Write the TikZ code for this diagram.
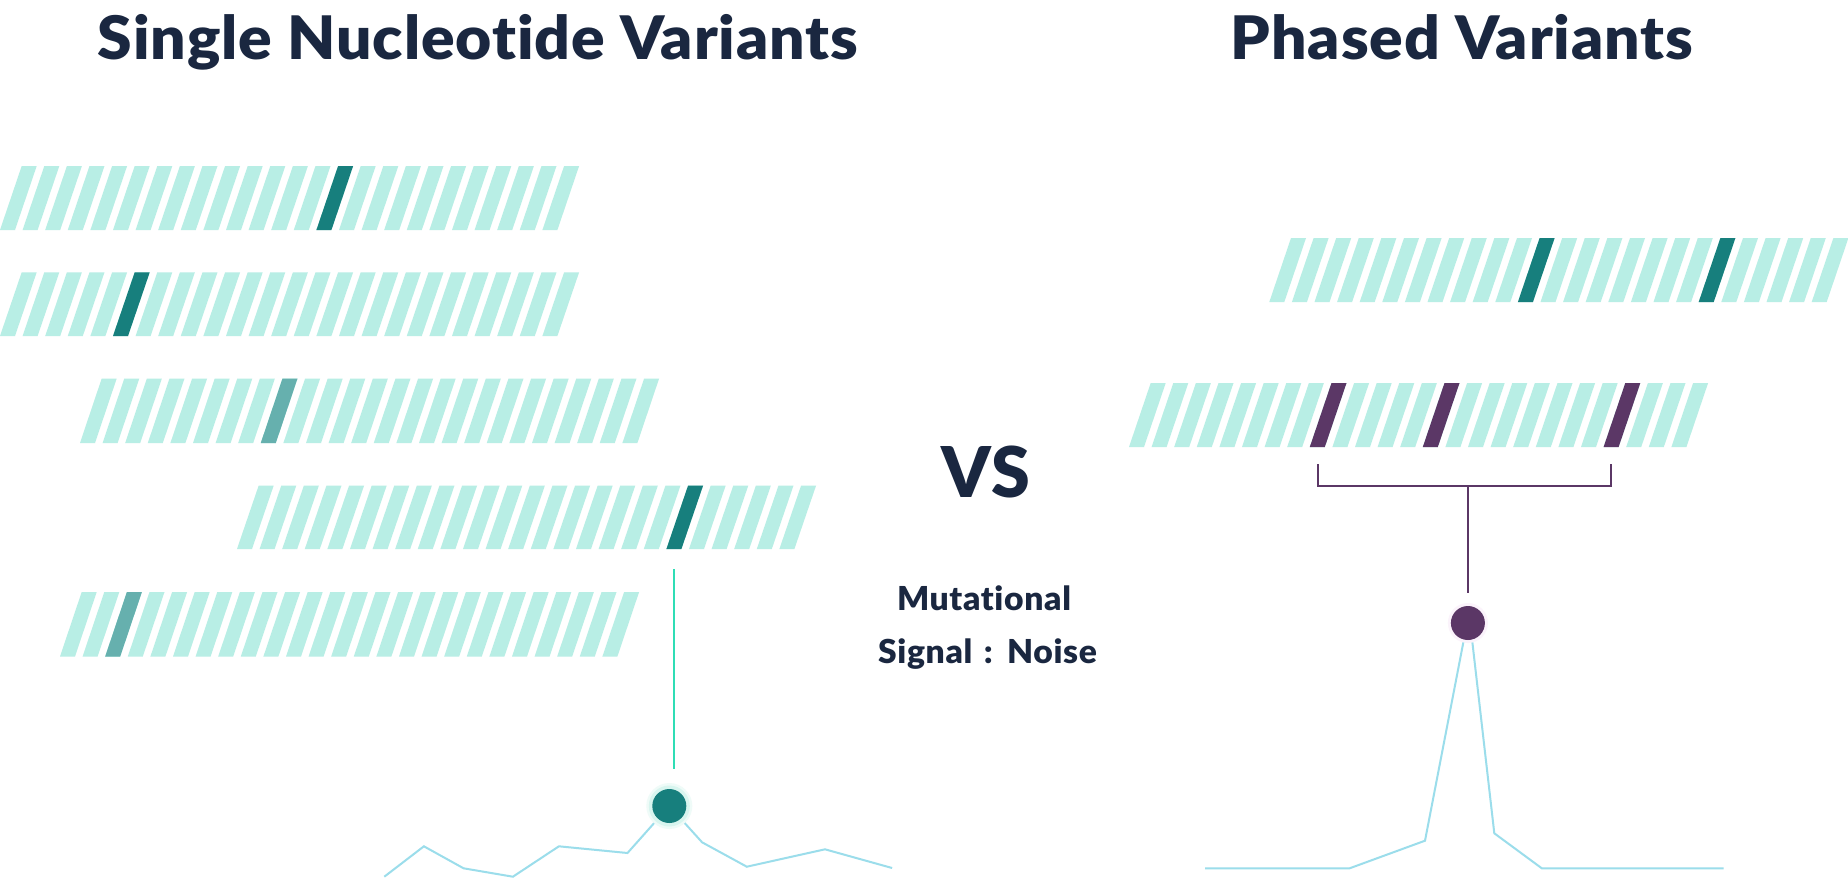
\documentclass[tikz,border=0pt]{standalone}
\usepackage{fontspec}
\setmainfont{Lato}[Ligatures=NoCommon]
\newfontfamily\heavy{Lato Black}[Ligatures=NoCommon,LetterSpace=1.5,FakeStretch=1.04]
\newfontfamily\vsfont{Lato Black}[Ligatures=NoCommon,LetterSpace=1.5]
\newfontfamily\medi{Lato Black}[Ligatures=NoCommon,LetterSpace=2,FakeStretch=1.02]
\definecolor{ink}{HTML}{1A2740}
\definecolor{stripe}{HTML}{B8EEE5}
\definecolor{teal}{HTML}{177F7D}
\definecolor{fadeteal}{HTML}{66B0AE}
\definecolor{plum}{HTML}{5B3766}
\definecolor{trace}{HTML}{9BDDEB}
\definecolor{mint}{HTML}{2FDDB5}
\definecolor{tealhaloa}{HTML}{EFFBF8}
\definecolor{tealhalob}{HTML}{D8F5EF}
\definecolor{plumhalo}{HTML}{FBF3FB}
\tikzset{
  title/.style={font=\fontsize{60}{66}\heavy,text=ink,anchor=base,inner sep=0pt},
  vs/.style={font=\fontsize{70}{74}\vsfont,text=ink,anchor=base,inner sep=0pt},
  sub/.style={font=\fontsize{33}{38}\medi,text=ink,anchor=base,inner sep=0pt},
  tracer/.style={draw=trace,line width=2pt,line join=miter},
  dot/.style={circle,minimum size=34pt,inner sep=0pt},
}
\newcommand{\readrow}[4]{%
  \foreach \i in {0,...,24}{%
    \pgfmathsetmacro{\xa}{#1+\i*22.6}%
    \fill[stripe] (\xa,#3) -- (\xa+15,#3) -- (\xa+36.7,#2) -- (\xa+21.7,#2) -- cycle;
  }%
  \foreach \i/\c in {#4}{%
    \pgfmathsetmacro{\xa}{#1+\i*22.6}%
    \fill[\c] (\xa,#3) -- (\xa+15,#3) -- (\xa+36.7,#2) -- (\xa+21.7,#2) -- cycle;
  }%
}
\begin{document}
\begin{tikzpicture}[x=1pt,y=-1pt]
\useasboundingbox (0,0) rectangle (1848,879);
\fill[white] (0,0) rectangle (1848,879);
\node[title] (t1) at (478,59.5) {Single Nucleotide Variants};
\node[title] (t2) at (1462,59.5) {Phased Variants};
\node[vs] (vs) at (986,497) {VS};
\node[sub] (m1) at (984,610) {Mutational};
\node[sub] (m2) at (987.5,663) {Signal\hspace{3pt} : \hspace{3pt}Noise};

\readrow{0}{166}{230}{14/teal}
\readrow{0}{272.3}{336}{5/teal}
\readrow{80}{378.5}{443}{8/fadeteal}
\readrow{237}{485.5}{549}{19/teal}
\readrow{60}{592}{656.5}{2/fadeteal}
\readrow{1269.3}{238}{302}{11/teal,19/teal}
\readrow{1129}{383}{447}{8/plum,13/plum,21/plum}

\draw[tracer] (384.3,876.7) -- (423.9,846.3) -- (463.6,868.3) -- (512.9,876.7) -- (558.9,846.3) -- (627.5,853) -- (669.3,806) -- (702.1,842.3) -- (746.8,866.7) -- (825,849.3) -- (892.1,868);
\draw[tracer] (1205,868.3) -- (1349.6,868.3) -- (1425,840.7) -- (1469,613) -- (1494.3,833.3) -- (1541.8,868.3) -- (1723.6,868.3);

\node[dot,fill=tealhaloa,minimum size=46pt] (h1a) at (669.3,806) {};
\node[dot,fill=tealhalob,minimum size=41pt] (h1b) at (669.3,806) {};
\node[dot,fill=teal] (d1) at (669.3,806) {};
\node[dot,fill=plumhalo,minimum size=40pt] (h2) at (1467.9,623) {};
\node[dot,fill=plum] (d2) at (1467.9,623) {};

\coordinate (c1) at (673.6,569);
\coordinate (c2) at (673.6,769);
\draw[mint,line width=2pt] (c1) -- (c2);

\coordinate (bl) at (1317.5,464.3);
\coordinate (br) at (1611.4,464.3);
\coordinate (bm) at (1467.9,486);
\coordinate (be) at (1467.9,592.7);
\draw[plum,line width=2pt,line join=miter] (bl) |- (bm) -| (br);
\draw[plum,line width=2pt] (bm) -- (be);
\end{tikzpicture}
\end{document}
